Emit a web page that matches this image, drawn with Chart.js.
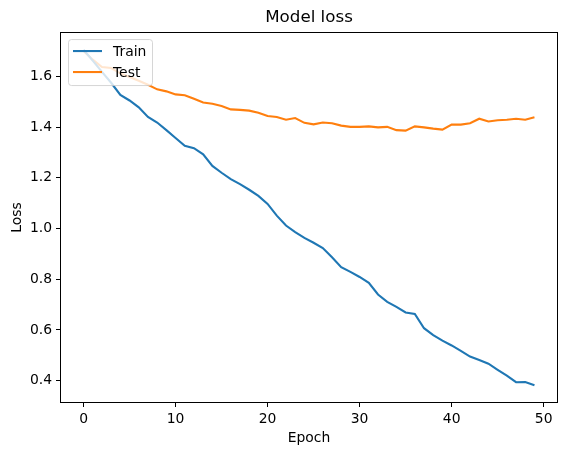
<!DOCTYPE html>
<html>
<head>
<meta charset="utf-8">
<script src="https://cdn.jsdelivr.net/npm/chart.js@4/dist/chart.umd.min.js"></script>
<style>
  html, body { margin: 0; padding: 0; background: #fff; }
  canvas { display: block; }
</style>
</head>
<body>
<canvas id="lossChart" width="567" height="455"></canvas>
<script>
// Values
const epochs = [0, 1, 2, 3, 4, 5, 6, 7, 8, 9, 10, 11, 12, 13, 14, 15, 16, 17, 18, 19,
                20, 21, 22, 23, 24, 25, 26, 27, 28, 29, 30, 31, 32, 33, 34, 35, 36, 37, 38, 39,
                40, 41, 42, 43, 44, 45, 46, 47, 48, 49];

const trainLoss = [1.705, 1.662, 1.618, 1.575, 1.527, 1.505, 1.478, 1.440, 1.418, 1.388,
                   1.357, 1.326, 1.317, 1.293, 1.247, 1.220, 1.195, 1.175, 1.153, 1.129,
                   1.097, 1.051, 1.012, 0.986, 0.963, 0.944, 0.923, 0.887, 0.848, 0.829,
                   0.809, 0.786, 0.740, 0.711, 0.691, 0.669, 0.663, 0.607, 0.580, 0.558,
                   0.539, 0.518, 0.495, 0.482, 0.467, 0.443, 0.420, 0.394, 0.395, 0.382];

const testLoss = [1.700, 1.666, 1.637, 1.633, 1.612, 1.598, 1.583, 1.567, 1.549, 1.541,
                  1.529, 1.526, 1.512, 1.497, 1.492, 1.483, 1.470, 1.468, 1.465, 1.457,
                  1.444, 1.440, 1.429, 1.436, 1.417, 1.411, 1.418, 1.415, 1.406, 1.401,
                  1.401, 1.403, 1.399, 1.401, 1.388, 1.386, 1.403, 1.399, 1.394, 1.390,
                  1.410, 1.410, 1.415, 1.433, 1.422, 1.427, 1.429, 1.433, 1.429, 1.439];

const xTicks = [0, 10, 20, 30, 40, 50];
const yTicks = [0.4, 0.6, 0.8, 1.0, 1.2, 1.4, 1.6];

const FONT = "'DejaVu Sans', sans-serif";
const BLUE = '#1f77b4';
const ORANGE = '#ff7f0e';

// matplotlib-like frame around the axes
const framePlugin = {
    id: 'frame',
    afterDatasetsDraw(chart) {
        const a = chart.chartArea;
        const c = chart.ctx;
        c.save();
        c.strokeStyle = '#000';
        c.lineWidth = 1;
        c.strokeRect(Math.round(a.left) - 0.5, Math.round(a.top) - 0.5,
                     Math.round(a.right - a.left) + 1, Math.round(a.bottom - a.top) + 1);
        c.restore();
    }
};

// legend drawn inside the plot, upper left
const innerLegend = {
    id: 'innerLegend',
    afterDraw(chart) {
        const a = chart.chartArea;
        const c = chart.ctx;
        const x = a.left + 7, y = a.top + 6, w = 84, h = 46, r = 3;
        c.save();
        c.beginPath();
        c.roundRect(x + 0.5, y + 0.5, w, h, r);
        c.fillStyle = 'rgba(255,255,255,0.8)';
        c.fill();
        c.strokeStyle = 'rgba(204,204,204,0.8)';
        c.lineWidth = 1;
        c.stroke();
        c.font = '13.9px ' + FONT;
        c.textBaseline = 'middle';
        chart.data.datasets.forEach((ds, i) => {
            const ly = y + 12 + i * 21;
            c.beginPath();
            c.moveTo(x + 5, ly);
            c.lineTo(x + 34, ly);
            c.strokeStyle = ds.borderColor;
            c.lineWidth = 2.1;
            c.stroke();
            c.fillStyle = '#000';
            c.fillText(ds.label, x + 45, ly + 1);
        });
        c.restore();
    }
};

new Chart(document.getElementById('lossChart'), {
    type: 'line',
    data: {
        datasets: [{
            label: 'Train',
            data: epochs.map((e, i) => ({ x: e, y: trainLoss[i] })),
            borderColor: BLUE,
            borderWidth: 2.1,
            pointRadius: 0,
            tension: 0,
            fill: false
        }, {
            label: 'Test',
            data: epochs.map((e, i) => ({ x: e, y: testLoss[i] })),
            borderColor: ORANGE,
            borderWidth: 2.1,
            pointRadius: 0,
            tension: 0,
            fill: false
        }]
    },
    options: {
        responsive: false,
        animation: false,
        devicePixelRatio: 1,
        layout: { padding: { left: 0, right: 10, top: 0, bottom: 0 } },
        plugins: {
            legend: { display: false },
            tooltip: { enabled: false },
            title: {
                display: true,
                text: 'Model loss',
                fullSize: false,
                color: '#000',
                font: { family: FONT, size: 16.7, weight: 'normal' },
                padding: { top: 8, bottom: 5 }
            }
        },
        scales: {
            x: {
                type: 'linear',
                min: -2.45,
                max: 51.45,
                afterBuildTicks: (scale) => { scale.ticks = xTicks.map(v => ({ value: v })); },
                afterFit: (scale) => { scale.height = 53; },
                ticks: {
                    color: '#000',
                    font: { family: FONT, size: 13.9 },
                    padding: 4,
                    maxRotation: 0,
                    autoSkip: false
                },
                grid: {
                    drawOnChartArea: false,
                    drawTicks: true,
                    tickLength: 5,
                    tickColor: '#000'
                },
                border: { display: false },
                title: {
                    display: true,
                    text: 'Epoch',
                    color: '#000',
                    font: { family: FONT, size: 13.9 },
                    padding: { top: 0, bottom: 8 }
                }
            },
            y: {
                type: 'linear',
                min: 0.316,
                max: 1.771,
                afterBuildTicks: (scale) => { scale.ticks = yTicks.map(v => ({ value: v })); },
                afterFit: (scale) => { scale.width = 61; },
                ticks: {
                    color: '#000',
                    font: { family: FONT, size: 13.9 },
                    padding: 4,
                    autoSkip: false,
                    callback: (v) => Number(v).toFixed(1)
                },
                grid: {
                    drawOnChartArea: false,
                    drawTicks: true,
                    tickLength: 5,
                    tickColor: '#000'
                },
                border: { display: false },
                title: {
                    display: true,
                    text: 'Loss',
                    color: '#000',
                    font: { family: FONT, size: 13.9 },
                    padding: { top: 9, bottom: 0 }
                }
            }
        }
    },
    plugins: [framePlugin, innerLegend]
});
</script>
</body>
</html>
